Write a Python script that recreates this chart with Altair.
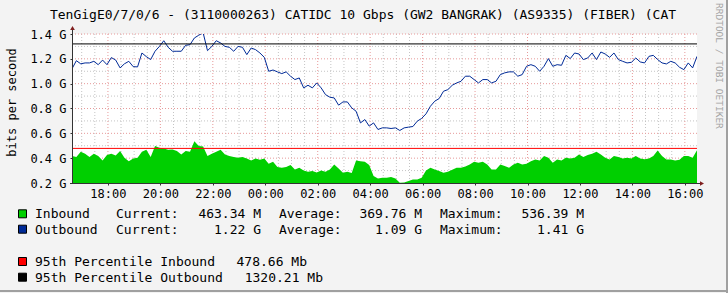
import altair as alt
import pandas as pd

# ---------------- data ----------------
START_HOUR = 16.63          # 16:38, first sample
STEP_HOURS = 10 / 60        # one sample every 10 minutes

inbound = [
    0.417, 0.409, 0.452, 0.436, 0.409, 0.436, 0.417, 0.382, 0.425, 0.436, 0.422, 0.457,
    0.403, 0.376, 0.397, 0.403, 0.452, 0.467, 0.409, 0.497, 0.483, 0.478, 0.467, 0.470,
    0.457, 0.430, 0.457, 0.452, 0.536, 0.497, 0.494, 0.417, 0.436, 0.452, 0.467, 0.430,
    0.417, 0.409, 0.403, 0.409, 0.397, 0.382, 0.397, 0.387, 0.397, 0.355, 0.371, 0.328,
    0.322, 0.328, 0.344, 0.309, 0.322, 0.301, 0.291, 0.296, 0.285, 0.301, 0.291, 0.309,
    0.349, 0.317, 0.283, 0.291, 0.280, 0.382, 0.376, 0.371, 0.344, 0.256, 0.237, 0.242,
    0.242, 0.248, 0.237, 0.202, 0.205, 0.216, 0.229, 0.229, 0.242, 0.301, 0.322, 0.309,
    0.296, 0.283, 0.291, 0.306, 0.322, 0.322, 0.333, 0.349, 0.371, 0.363, 0.371, 0.349,
    0.309, 0.309, 0.349, 0.336, 0.322, 0.349, 0.363, 0.349, 0.355, 0.376, 0.390, 0.382,
    0.417, 0.403, 0.363, 0.390, 0.382, 0.403, 0.397, 0.403, 0.430, 0.409, 0.425, 0.436,
    0.452, 0.430, 0.403, 0.390, 0.417, 0.409, 0.397, 0.403, 0.397, 0.417, 0.397, 0.392,
    0.397, 0.417, 0.462, 0.417, 0.390, 0.390, 0.382, 0.387, 0.417, 0.417, 0.403, 0.463,
]
outbound = [
    1.120, 1.185, 1.160, 1.167, 1.167, 1.180, 1.153, 1.190, 1.153, 1.210, 1.190, 1.127,
    1.160, 1.180, 1.137, 1.135, 1.247, 1.218, 1.194, 1.261, 1.300, 1.346, 1.293, 1.261,
    1.261, 1.261, 1.309, 1.314, 1.368, 1.390, 1.410, 1.266, 1.300, 1.346, 1.328, 1.300,
    1.293, 1.261, 1.300, 1.293, 1.234, 1.287, 1.274, 1.247, 1.212, 1.100, 1.110, 1.095,
    1.081, 1.095, 1.060, 1.033, 1.046, 0.966, 0.987, 0.966, 1.006, 0.966, 0.912, 0.891,
    0.885, 0.827, 0.853, 0.853, 0.805, 0.778, 0.684, 0.711, 0.658, 0.684, 0.631, 0.644,
    0.644, 0.639, 0.644, 0.623, 0.644, 0.650, 0.655, 0.698, 0.720, 0.757, 0.818, 0.859,
    0.880, 0.939, 0.952, 0.987, 1.006, 1.019, 1.060, 1.060, 1.033, 1.006, 1.033, 1.033,
    1.006, 1.019, 1.073, 1.087, 1.095, 1.095, 1.060, 1.073, 1.140, 1.153, 1.140, 1.100,
    1.140, 1.202, 1.140, 1.153, 1.148, 1.228, 1.202, 1.247, 1.239, 1.194, 1.207, 1.247,
    1.194, 1.255, 1.239, 1.212, 1.247, 1.194, 1.180, 1.167, 1.172, 1.207, 1.175, 1.167,
    1.220, 1.228, 1.194, 1.167, 1.159, 1.180, 1.167, 1.132, 1.113, 1.167, 1.127, 1.220,
]

TITLE = "TenGigE0/7/0/6 - (3110000263) CATIDC 10 Gbps (GW2 BANGRAK) (AS9335) (FIBER) (CAT"
Y_TITLE = "bits per second"
SIDE_TEXT = "RRDTOOL / TOBI OETIKER"

series_names = ["Inbound", "Outbound"]
series_colors = ["#00CF00", "#002A97"]
current_vals = ["463.34 M", "1.22 G"]
average_vals = ["369.76 M", "1.09 G"]
maximum_vals = ["536.39 M", "1.41 G"]

pct_names = ["95th Percentile Inbound", "95th Percentile Outbound"]
pct_values = ["478.66 Mb", "1320.21 Mb"]
pct_levels = [0.47866, 1.32021]
pct_colors = ["#FF0000", "#000000"]

X_MAJOR = [18, 20, 22, 24, 26, 28, 30, 32, 34, 36, 38, 40]          # hours (24+ = next day)
X_MINOR = [h / 2 for h in range(34, 81) if h % 4 != 0]
Y_MAJOR = [0.2, 0.4, 0.6, 0.8, 1.0, 1.2, 1.4]
Y_MINOR = [0.3, 0.5, 0.7, 0.9, 1.1, 1.3]

# ---------------- layout ----------------
W, H = 625, 149
OX, OY = 72, 34
FONT = "DejaVu Sans Mono"

n = len(inbound)
df = pd.DataFrame({
    "hour": [START_HOUR + i * STEP_HOURS for i in range(n)],
    "inbound": inbound,
    "outbound": outbound,
})
x_dom = [START_HOUR, START_HOUR + (n - 1) * STEP_HOURS]
xs = alt.Scale(domain=x_dom, nice=False, zero=False)
ys = alt.Scale(domain=[0.2, 1.4], nice=False, zero=False)

anchor = pd.DataFrame({"k": [0]})

label_expr = "(floor(datum.value % 24) < 10 ? '0' : '') + floor(datum.value % 24) + ':00'"

x_axis = alt.Axis(values=X_MAJOR, labelExpr=label_expr, title=None, grid=False,
                  domain=False, tickSize=2, tickColor="#333333", labelPadding=3,
                  labelFont=FONT, labelFontSize=12, labelColor="#000000",
                  labelFlush=False, labelOverlap=False, zindex=1)
y_axis = alt.Axis(values=Y_MAJOR, labelExpr="format(datum.value, '.1f') + ' G'",
                  title=Y_TITLE, titleFont=FONT, titleFontSize=12, titleFontWeight="normal",
                  titleColor="#000000", titleX=-61, titleY=68, titleAngle=270,
                  titleAlign="center", titleBaseline="middle",
                  grid=False, domain=False, tickSize=2, tickColor="#333333",
                  labelPadding=4, labelFont=FONT, labelFontSize=12, labelColor="#000000",
                  labelOverlap=False, zindex=1)

def X(field):
    return alt.X(f"{field}:Q", scale=xs, axis=x_axis, title=None)

def Y(field):
    return alt.Y(f"{field}:Q", scale=ys, axis=y_axis, title=Y_TITLE)

def vrules(vals, color):
    return alt.Chart(pd.DataFrame({"hour": vals})).mark_rule(
        color=color, strokeWidth=1, strokeDash=[1, 2]).encode(
        x=X("hour"), y=alt.value(0), y2=alt.value(H))

def hrules(vals, color):
    return alt.Chart(pd.DataFrame({"v": vals})).mark_rule(
        color=color, strokeWidth=1, strokeDash=[1, 2]).encode(
        y=Y("v"), x=alt.value(0), x2=alt.value(W))

def txt(s, x, y, align="left", size=13, color="#000000", angle=0, baseline="alphabetic"):
    return alt.Chart(anchor).mark_text(
        text=s, align=align, baseline=baseline, font=FONT, fontSize=size,
        color=color, angle=angle).encode(x=alt.value(x - OX), y=alt.value(y - OY))

def swatch(color, y_base):
    return alt.Chart(anchor).mark_rect(color=color, stroke="#000000", strokeWidth=1).encode(
        x=alt.value(18.5 - OX), x2=alt.value(26.5 - OX),
        y=alt.value(y_base - 8.5 - OY), y2=alt.value(y_base - 0.5 - OY))

def rule_px(x, x2, y, y2, color, width=1):
    return alt.Chart(anchor).mark_rule(color=color, strokeWidth=width).encode(
        x=alt.value(x), x2=alt.value(x2), y=alt.value(y), y2=alt.value(y2))

grid_minor_c = "#c4c4c4"
grid_major_c = "#e79a9a"

base = alt.Chart(df)
area = base.mark_area(color=series_colors[0], clip=True).encode(x=X("hour"), y=Y("inbound"))
line = base.mark_line(color=series_colors[1], strokeWidth=1, clip=True).encode(
    x=X("hour"), y=Y("outbound"))
pct = alt.Chart(pd.DataFrame({"level": pct_levels, "c": pct_colors})).mark_rule(strokeWidth=1).encode(
    y=Y("level"), x=alt.value(0), x2=alt.value(W),
    color=alt.Color("c:N", scale=None, legend=None))

layers = [
    vrules(X_MINOR, grid_minor_c), hrules(Y_MINOR, grid_minor_c),
    vrules(X_MAJOR, grid_major_c), hrules(Y_MAJOR[1:], grid_major_c),
    area, line, pct,
    # axis lines and arrows
    rule_px(0.5, 0.5, -6, H + 1, "#333333"),
    rule_px(-2, 629, H + 0.5, H + 0.5, "#333333"),
    alt.Chart(anchor).mark_point(shape="triangle-up", filled=True, size=22, color="#7f1f1f", opacity=1).encode(
        x=alt.value(0.5), y=alt.value(-6)),
    alt.Chart(anchor).mark_point(shape="triangle-right", filled=True, size=22, color="#7f1f1f", opacity=1).encode(
        x=alt.value(630), y=alt.value(H + 0.5)),
    # title and side text
    txt(TITLE, 363, 18.5, align="center"),
    txt(SIDE_TEXT, 719, 3, align="left", size=9.5, color="#a3a3a3", angle=90, baseline="middle"),
    # frame shade
    rule_px(-OX, 728 - OX, 257, 257, "#a0a0a0", 2),
    rule_px(655, 655, -OY, 259, "#a0a0a0", 2),
]

row_base = [218.3, 233.7]
for i in range(2):
    yb = row_base[i]
    layers += [
        swatch(series_colors[i], yb),
        txt(series_names[i], 35, yb),
        txt("Current:", 116, yb),
        txt(current_vals[i], 261, yb, align="right"),
        txt("Average:", 279, yb),
        txt(average_vals[i], 422, yb, align="right"),
        txt("Maximum:", 440, yb),
        txt(maximum_vals[i], 584, yb, align="right"),
    ]

pct_base = [266.0, 281.7]
pct_val_x = [307, 323]
for i in range(2):
    yb = pct_base[i]
    layers += [
        swatch(pct_colors[i], yb),
        txt(pct_names[i], 35, yb),
        txt(pct_values[i], pct_val_x[i], yb, align="right"),
    ]

chart = alt.layer(*layers).properties(
    width=W, height=H,
    autosize=alt.AutoSizeParams(type="none"),
    padding={"left": OX, "top": OY, "right": 728 - OX - W, "bottom": 293 - OY - H},
    background="#f3f3f3",
).configure_view(stroke=None, fill="#ffffff")

chart.save("out.html", embed_options={"renderer": "svg", "actions": False})
